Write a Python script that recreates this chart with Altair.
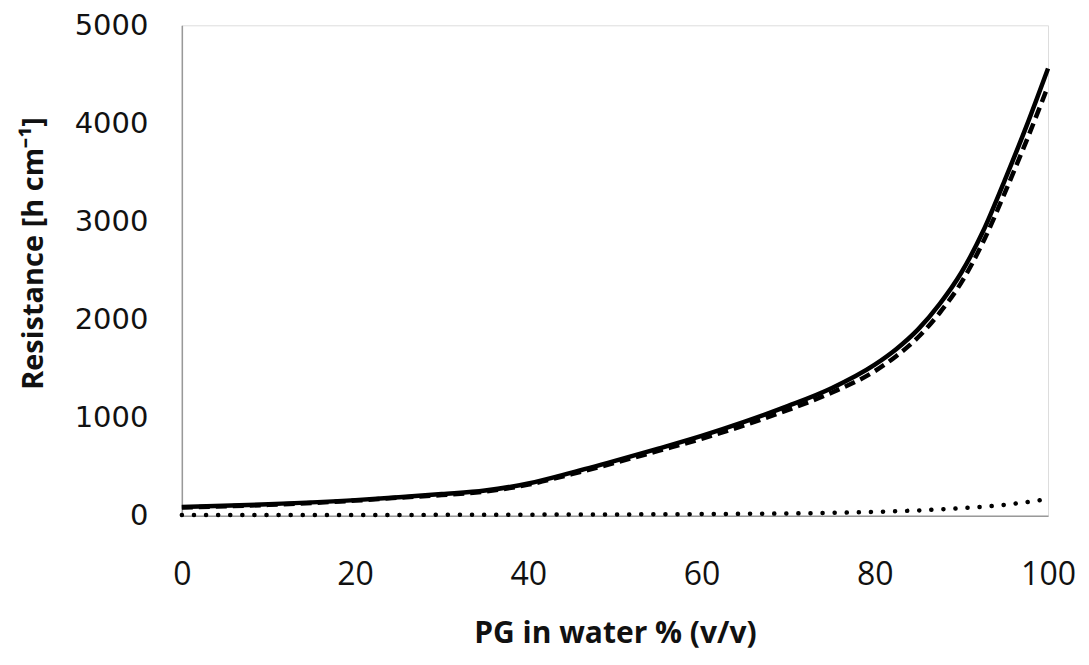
import altair as alt
import pandas as pd

# PG content (% v/v) and resistance values
pg = [0, 10, 20, 25, 30, 35, 40, 45, 50, 55, 60, 65, 70, 75, 80, 82.5, 85, 87.5, 90, 92.5, 95, 97.5, 100]
solid = [90, 118, 160, 190, 222, 258, 330, 440, 560, 685, 815, 960, 1120, 1300, 1540, 1700, 1900, 2160,
         2480, 2900, 3420, 3970, 4560]
dashed = [85, 112, 155, 185, 212, 248, 318, 425, 540, 662, 785, 925, 1080, 1255, 1475, 1630, 1820, 2070,
          2380, 2790, 3290, 3820, 4380]

pg_dot = [0, 10, 20, 30, 40, 50, 60, 70, 75, 80, 85, 90, 95, 100]
dotted = [8, 8, 9, 10, 12, 14, 18, 24, 30, 40, 55, 78, 112, 172]

x_ticks = [0, 20, 40, 60, 80, 100]
y_ticks = [0, 1000, 2000, 3000, 4000, 5000]

df = pd.concat([
    pd.DataFrame({"pg": pg, "r": solid, "s": "solid"}),
    pd.DataFrame({"pg": pg, "r": dashed, "s": "dashed"}),
    pd.DataFrame({"pg": pg_dot, "r": dotted, "s": "dotted"}),
])

FONT = "Open Sans"

x = alt.X("pg:Q", scale=alt.Scale(domain=[0, 100], nice=False),
          axis=alt.Axis(values=x_ticks, format="d", title="PG in water % (v/v)", grid=False, ticks=False,
                        labelFlush=False, labelOverlap=False,
                        labelPadding=44, titlePadding=28, domainColor="#999999", domainWidth=1.5,
                        labelFont=FONT, labelFontSize=32, labelColor="#111111",
                        titleFont=FONT, titleFontSize=30, titleFontWeight="bold", titleColor="#111111"))
y = alt.Y("r:Q", scale=alt.Scale(domain=[0, 5000], nice=False),
          axis=alt.Axis(values=y_ticks, format="d", title="Resistance [h cm\u207b\u00b9]", grid=False, ticks=False,
                        labelFlush=False, labelOverlap=False,
                        labelPadding=34, titlePadding=26, titleY=228, domainColor="#999999", domainWidth=1.5,
                        labelFont="DejaVu Sans", labelFontSize=29, labelColor="#111111",
                        titleFont=FONT, titleFontSize=29, titleFontWeight="bold", titleColor="#111111"))

base = alt.Chart(df)

l_solid = base.transform_filter(alt.datum.s == "solid").mark_line(
    color="black", strokeWidth=4.5, interpolate="monotone").encode(x=x, y=y)
l_dashed = base.transform_filter(alt.datum.s == "dashed").mark_line(
    color="black", strokeWidth=4.5, strokeDash=[11, 6], interpolate="monotone").encode(x=x, y=y)
l_dotted = base.transform_filter(alt.datum.s == "dotted").mark_line(
    color="black", strokeWidth=4.5, strokeDash=[0.1, 12], strokeCap="round", interpolate="monotone").encode(x=x, y=y)

chart = alt.layer(l_dashed, l_solid, l_dotted).properties(
    width=867, height=491, padding={"left": 11, "top": 3, "right": 5, "bottom": 5}
).configure_view(stroke=None).configure(background="white")

chart.save("out.html", embed_options={"renderer": "svg", "actions": False})
